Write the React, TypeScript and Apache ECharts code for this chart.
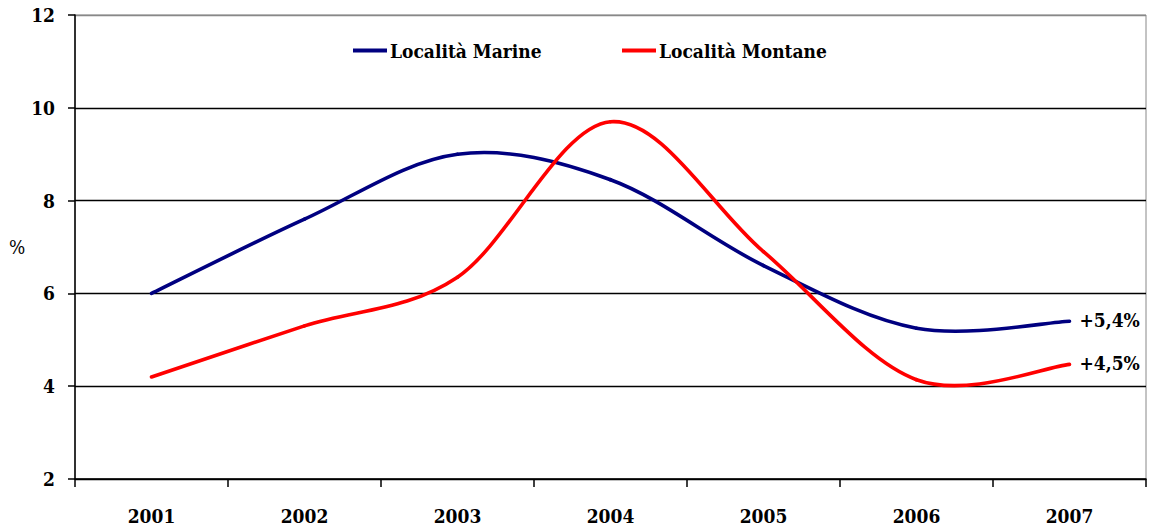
import React, { useEffect, useRef } from "react";
import * as echarts from "echarts";

const years = ["2001", "2002", "2003", "2004", "2005", "2006", "2007"];
const marine = [6.0, 7.6, 9.0, 8.45, 6.6, 5.25, 5.4];
const montane = [4.2, 5.3, 6.35, 9.7, 6.9, 4.14, 4.47];
const marineLabel = "+5,4%";
const montaneLabel = "+4,5%";
const yTicks = { min: 2, max: 12, interval: 2 };

const FONT = "DejaVu Serif Condensed, DejaVu Serif";
const BLUE = "#000080";
const RED = "#ff0000";

function makeSeries(name: string, vals: number[], color: string, endText: string) {
  return {
    name,
    type: "custom",
    color,
    itemStyle: { color },
    data: vals.map((v, i) => [i, v]),
    renderItem: (params: any, api: any) => {
      const i = params.dataIndex;
      const n = vals.length;
      const pt = (k: number) => {
        const kk = Math.max(0, Math.min(n - 1, k));
        return api.coord([kk, vals[kk]]);
      };
      if (i === n - 1) {
        const p = pt(i);
        return {
          type: "text",
          x: p[0] + 10,
          y: p[1] - 1,
          style: {
            text: endText,
            fontFamily: FONT,
            fontWeight: "bold",
            fontSize: 19,
            fill: "#000",
            verticalAlign: "middle",
            align: "left",
          },
        };
      }
      const p0 = pt(i - 1);
      const p1 = pt(i);
      const p2 = pt(i + 1);
      const p3 = pt(i + 2);
      return {
        type: "bezierCurve",
        shape: {
          x1: p1[0],
          y1: p1[1],
          cpx1: p1[0] + (p2[0] - p0[0]) / 6,
          cpy1: p1[1] + (p2[1] - p0[1]) / 6,
          cpx2: p2[0] - (p3[0] - p1[0]) / 6,
          cpy2: p2[1] - (p3[1] - p1[1]) / 6,
          x2: p2[0],
          y2: p2[1],
        },
        style: { stroke: color, lineWidth: 3.6, fill: "none", lineCap: "round" },
      };
    },
  };
}

const legendBase = {
  top: 41,
  padding: 0,
  itemWidth: 34,
  itemHeight: 4,
  icon: "rect",
  textStyle: {
    fontFamily: FONT,
    fontWeight: "bold",
    fontSize: 19,
    color: "#000",
    padding: [0, 0, 0, -2],
  },
};

export default function App() {
  const ref = useRef<HTMLDivElement>(null);
  useEffect(() => {
    if (!ref.current) return;
    const chart = echarts.init(ref.current, null, { renderer: "svg" });
    chart.setOption({
      animation: false,
      backgroundColor: "#fff",
      grid: {
        left: 75,
        top: 15,
        right: 3,
        bottom: 48,
        show: true,
        borderColor: "#888",
        borderWidth: 1,
      },
      legend: [
        {
          ...legendBase,
          left: 353,
          data: [{ name: "Località Marine", itemStyle: { color: BLUE } }],
        },
        {
          ...legendBase,
          left: 622,
          data: [{ name: "Località Montane", itemStyle: { color: RED } }],
        },
      ],
      xAxis: {
        type: "category",
        data: years,
        boundaryGap: true,
        axisLine: { lineStyle: { color: "#000", width: 1.5 } },
        axisTick: { show: true, length: 8, lineStyle: { color: "#000", width: 1.5 } },
        axisLabel: {
          margin: 27,
          fontFamily: FONT,
          fontWeight: "bold",
          fontSize: 19,
          color: "#000",
        },
      },
      yAxis: {
        type: "value",
        min: yTicks.min,
        max: yTicks.max,
        interval: yTicks.interval,
        name: "%",
        nameLocation: "middle",
        nameRotate: 0,
        nameGap: 43,
        nameTextStyle: {
          fontFamily: FONT,
          fontSize: 19,
          color: "#000",
        },
        axisLine: { show: true, lineStyle: { color: "#000", width: 1.5 } },
        axisTick: { show: true, length: 7, lineStyle: { color: "#000", width: 1.5 } },
        axisLabel: {
          margin: 20,
          fontFamily: FONT,
          fontWeight: "bold",
          fontSize: 19,
          color: "#000",
        },
        splitLine: {
          show: true,
          lineStyle: {
            color: ["#000", "#000", "#000", "#000", "#000", "#888"],
            width: 1.3,
          },
        },
      },
      series: [
        makeSeries("Località Marine", marine, BLUE, marineLabel),
        makeSeries("Località Montane", montane, RED, montaneLabel),
      ],
    });
    return () => chart.dispose();
  }, []);
  return (
    <div
      ref={ref}
      style={{ position: "fixed", left: 0, top: 0, width: 1149, height: 527 }}
    />
  );
}
